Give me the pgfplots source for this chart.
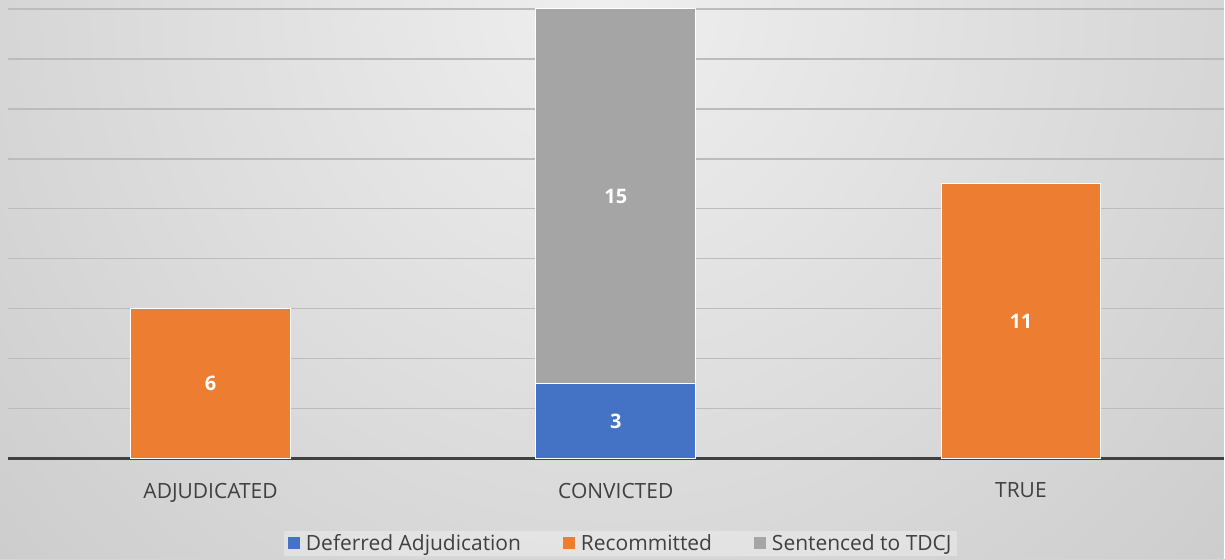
\documentclass[border=0pt]{standalone}
\usepackage{pgfplots}
\pgfplotsset{compat=1.18}
\usepackage{fontspec}
\setmainfont{Open Sans}
\definecolor{cblue}{HTML}{4472C4}
\definecolor{corange}{HTML}{ED7D31}
\definecolor{cgray}{HTML}{A5A5A5}
\definecolor{gridc}{HTML}{BCBCBC}
\definecolor{txt}{HTML}{404040}
\definecolor{bgdark}{HTML}{CACACA}
\definecolor{bglight}{HTML}{EFEFEF}
\begin{document}
\begin{tikzpicture}[x=1bp,y=1bp]
\begin{scope}
\clip (0,0) rectangle (1225,559);
\fill[bgdark] (0,0) rectangle (1225,559);
\shade[inner color=bglight, outer color=bgdark] (612,559) circle (900);
\end{scope}
\path (0,0) rectangle (1225,559);
\begin{axis}[
  at={(8bp,100bp)}, anchor=south west,
  width=1217bp, height=450bp, scale only axis,
  xmin=-0.5, xmax=2.5, ymin=0, ymax=18,
  clip=false,
  ybar stacked, bar width=160bp,
  axis line style={draw=none},
  ytick={2,4,...,18}, yticklabels={},
  ymajorgrids, major grid style={gridc, line width=1.5bp},
  xtick={0,1,2}, xticklabels={ADJUDICATED,CONVICTED,TRUE},
  major tick length=0pt, tick style={draw=none},
  xticklabel style={font=\fontsize{21bp}{25bp}\selectfont, text=txt, yshift=-21bp},
  point meta=explicit,
  nodes near coords={\pgfmathfloatifflags{\pgfplotspointmeta}{0}{}{\pgfmathprintnumber[assume math mode=true]{\pgfplotspointmeta}}},
  every node near coord/.append style={font=\fontsize{20bp}{24bp}\selectfont\bfseries, text=white, anchor=center},
  legend columns=3,
  legend style={at={(0.5041,-0.189)}, anchor=center, draw=none, fill=white, fill opacity=0.3, text opacity=1,
    font=\fontsize{21bp}{25bp}\selectfont, text=txt, inner xsep=4bp,
    /tikz/every odd column/.append style={column sep=4bp},
    /tikz/every even column/.append style={column sep=40bp}},
  mybar/.style={draw=white, line width=1bp, fill=#1,
    legend image code/.code={\fill[#1, fill opacity=1] (0bp,-5.5bp) rectangle (11bp,5.5bp);}},
]
\addplot[mybar=cblue] coordinates {(0,0) [0] (1,3) [3] (2,0) [0]};
\addlegendentry{Deferred Adjudication}
\addplot[mybar=corange] coordinates {(0,6) [6] (1,0) [0] (2,11) [11]};
\addlegendentry{Recommitted}
\addplot[mybar=cgray] coordinates {(0,0) [0] (1,15) [15] (2,0) [0]};
\addlegendentry{Sentenced to TDCJ}
\draw[txt, line width=3bp] (axis cs:-0.5,0) -- (axis cs:2.5,0);
\end{axis}
\end{tikzpicture}
\end{document}
